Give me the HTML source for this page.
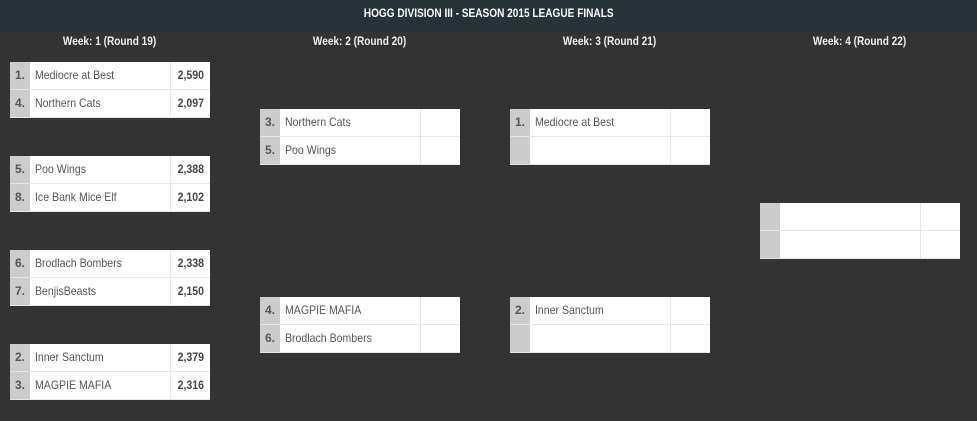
<!DOCTYPE html>
<html><head><style>
body{margin:0;width:977px;height:421px;background:#333;font-family:"Liberation Sans",sans-serif;position:relative;overflow:hidden}
.hdr{position:absolute;left:0;top:0;width:977px;height:32px;background:#263238;color:#fff;font-weight:bold;font-size:12px;text-align:center;line-height:27px}
.hdr span,.wk span{display:inline-block;transform:scaleX(0.84)}
.wk{position:absolute;top:32px;width:200px;text-align:center;color:#eee;font-weight:bold;font-size:12px;line-height:18px}
.box{position:absolute;width:200px;height:56px;background:#fff}
.row{position:absolute;left:0;width:200px;height:27px;font-size:12px;color:#555;line-height:27px}
.r1{top:0}.r2{top:28px}
.box .div{position:absolute;left:0;top:27px;width:200px;height:1px;background:#e6e6e6}
.box .bt{position:absolute;left:0;top:55px;width:200px;height:1px;background:#e6e6e6}
.sd{position:absolute;left:0;top:0;width:20px;height:27px;background:#ccc;font-weight:bold;text-align:center;color:#555}
.nm{position:absolute;left:25px;top:0;transform:scaleX(0.88);transform-origin:left center;white-space:nowrap}
.sc{position:absolute;left:160px;top:0;width:40px;height:27px;border-left:1px solid #e6e6e6;text-align:right;box-sizing:border-box;padding-right:6px;font-weight:bold;color:#444}
.sc span{display:inline-block;transform:scaleX(0.88);transform-origin:right center}
</style></head><body>
<div class="hdr"><span>HOGG DIVISION III - SEASON 2015 LEAGUE FINALS</span></div>
<div class="wk" style="left:10px"><span>Week: 1 (Round 19)</span></div>
<div class="wk" style="left:260px"><span>Week: 2 (Round 20)</span></div>
<div class="wk" style="left:510px"><span>Week: 3 (Round 21)</span></div>
<div class="wk" style="left:760px"><span>Week: 4 (Round 22)</span></div>

<div class="box" style="left:10px;top:62px"><div class="div"></div><div class="bt"></div>
<div class="row r1"><div class="sd">1.</div><div class="nm">Mediocre at Best</div><div class="sc"><span>2,590</span></div></div>
<div class="row r2"><div class="sd">4.</div><div class="nm">Northern Cats</div><div class="sc"><span>2,097</span></div></div></div>

<div class="box" style="left:10px;top:156px"><div class="div"></div><div class="bt"></div>
<div class="row r1"><div class="sd">5.</div><div class="nm">Poo Wings</div><div class="sc"><span>2,388</span></div></div>
<div class="row r2"><div class="sd">8.</div><div class="nm">Ice Bank Mice Elf</div><div class="sc"><span>2,102</span></div></div></div>

<div class="box" style="left:10px;top:250px"><div class="div"></div><div class="bt"></div>
<div class="row r1"><div class="sd">6.</div><div class="nm">Brodlach Bombers</div><div class="sc"><span>2,338</span></div></div>
<div class="row r2"><div class="sd">7.</div><div class="nm">BenjisBeasts</div><div class="sc"><span>2,150</span></div></div></div>

<div class="box" style="left:10px;top:344px"><div class="div"></div><div class="bt"></div>
<div class="row r1"><div class="sd">2.</div><div class="nm">Inner Sanctum</div><div class="sc"><span>2,379</span></div></div>
<div class="row r2"><div class="sd">3.</div><div class="nm">MAGPIE MAFIA</div><div class="sc"><span>2,316</span></div></div></div>

<div class="box" style="left:260px;top:109px"><div class="div"></div><div class="bt"></div>
<div class="row r1"><div class="sd">3.</div><div class="nm">Northern Cats</div><div class="sc"></div></div>
<div class="row r2"><div class="sd">5.</div><div class="nm">Poo Wings</div><div class="sc"></div></div></div>

<div class="box" style="left:260px;top:297px"><div class="div"></div><div class="bt"></div>
<div class="row r1"><div class="sd">4.</div><div class="nm">MAGPIE MAFIA</div><div class="sc"></div></div>
<div class="row r2"><div class="sd">6.</div><div class="nm">Brodlach Bombers</div><div class="sc"></div></div></div>

<div class="box" style="left:510px;top:109px"><div class="div"></div><div class="bt"></div>
<div class="row r1"><div class="sd">1.</div><div class="nm">Mediocre at Best</div><div class="sc"></div></div>
<div class="row r2"><div class="sd"></div><div class="nm"></div><div class="sc"></div></div></div>

<div class="box" style="left:510px;top:297px"><div class="div"></div><div class="bt"></div>
<div class="row r1"><div class="sd">2.</div><div class="nm">Inner Sanctum</div><div class="sc"></div></div>
<div class="row r2"><div class="sd"></div><div class="nm"></div><div class="sc"></div></div></div>

<div class="box" style="left:760px;top:203px"><div class="div"></div><div class="bt"></div>
<div class="row r1"><div class="sd"></div><div class="sc"></div></div>
<div class="row r2"><div class="sd"></div><div class="sc"></div></div></div>
</body></html>
